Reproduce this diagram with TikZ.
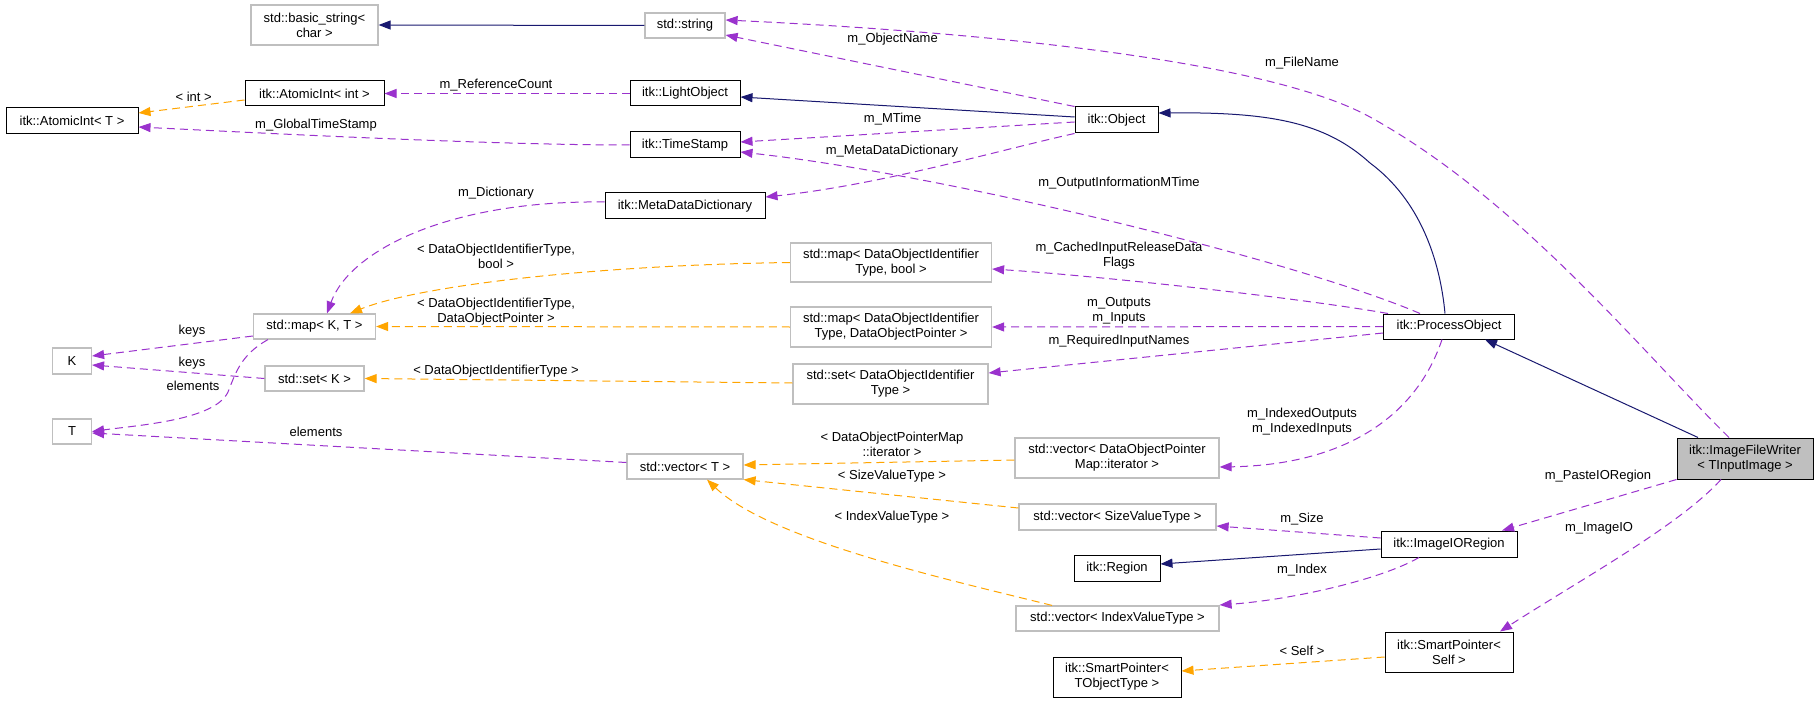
\documentclass[tikz,border=0pt]{standalone}
\usepackage{fontspec}
\setmainfont{Liberation Sans}
\usetikzlibrary{arrows.meta,calc}
\definecolor{dpurple}{HTML}{9A32CD}
\definecolor{dorange}{HTML}{FFA500}
\definecolor{dnavy}{HTML}{191970}
\definecolor{dgray}{HTML}{BFBFBF}
\begin{document}
\begin{tikzpicture}[x=1pt,y=-1pt,
  every node/.style={font=\fontsize{13}{15}\selectfont, inner sep=0pt, align=center},
  cls/.style={draw=black, line width=1pt, fill=white},
  ext/.style={draw=dgray, line width=1.2pt, fill=white},
  cur/.style={draw=black, line width=1pt, fill=dgray},
  inh/.style={draw=dnavy, line width=1pt, -{Triangle[length=12pt,width=9pt]}},
  use/.style={draw=dpurple, line width=1pt, dash pattern=on 8pt off 5pt, -{Triangle[length=12pt,width=9pt]}},
  tpl/.style={draw=dorange, line width=1pt, dash pattern=on 8pt off 5pt, -{Triangle[length=12pt,width=9pt]}},
  lbl/.style={}
]
\fill[white] (0,0) rectangle (1819,703);
\useasboundingbox (0,0) rectangle (1819,703);

% nodes
\node[ext, minimum width=127pt, minimum height=40pt] (bstr) at (314.5,25) {std::basic\_string<\\char >};
\node[ext, minimum width=80pt, minimum height=25pt] (str) at (685,25.5) {std::string};
\node[cls, minimum width=139pt, minimum height=25pt] (aint) at (314.5,93.5) {itk::AtomicInt< int >};
\node[cls, minimum width=132pt, minimum height=26pt] (aT) at (72,121) {itk::AtomicInt< T >};
\node[cls, minimum width=110pt, minimum height=25pt] (light) at (685,93.5) {itk::LightObject};
\node[cls, minimum width=110pt, minimum height=26pt] (ts) at (685,145) {itk::TimeStamp};
\node[cls, minimum width=160pt, minimum height=26pt] (mdd) at (685,206) {itk::MetaDataDictionary};
\node[cls, minimum width=83pt, minimum height=26pt] (obj) at (1116.5,120) {itk::Object};
\node[ext, minimum width=122pt, minimum height=25pt] (mapKT) at (314.5,326.5) {std::map< K, T >};
\node[ext, minimum width=39pt, minimum height=26pt] (K) at (72,361) {K};
\node[ext, minimum width=99pt, minimum height=25pt] (setK) at (314.5,378.5) {std::set< K >};
\node[ext, minimum width=39pt, minimum height=25pt] (T) at (72,431.5) {T};
\node[ext, minimum width=201pt, minimum height=39pt] (mapbool) at (891,262.5) {std::map< DataObjectIdentifier\\Type, bool >};
\node[ext, minimum width=201pt, minimum height=40pt] (mapdop) at (891,327) {std::map< DataObjectIdentifier\\Type, DataObjectPointer >};
\node[ext, minimum width=195pt, minimum height=40pt] (setdoit) at (890.5,384) {std::set< DataObjectIdentifier\\Type >};
\node[ext, minimum width=116pt, minimum height=25pt] (vecT) at (685,466.5) {std::vector< T >};
\node[ext, minimum width=204pt, minimum height=40pt] (vecit) at (1117,458) {std::vector< DataObjectPointer\\Map::iterator >};
\node[ext, minimum width=197pt, minimum height=26pt] (vecsize) at (1117.5,517) {std::vector< SizeValueType >};
\node[cls, minimum width=86pt, minimum height=26pt] (region) at (1117,568) {itk::Region};
\node[ext, minimum width=203pt, minimum height=25pt] (vecidx) at (1117.5,618.5) {std::vector< IndexValueType >};
\node[cls, minimum width=128pt, minimum height=40pt] (spT) at (1117,677) {itk::SmartPointer<\\TObjectType >};
\node[cls, minimum width=131pt, minimum height=25pt] (po) at (1449,326.5) {itk::ProcessObject};
\node[cur, minimum width=136pt, minimum height=41pt] (ifw) at (1745,458.5) {itk::ImageFileWriter\\< TInputImage >};
\node[cls, minimum width=136pt, minimum height=26pt] (ioreg) at (1449,544) {itk::ImageIORegion};
\node[cls, minimum width=128pt, minimum height=40pt] (spS) at (1449,652) {itk::SmartPointer<\\Self >};

% inheritance
\draw[inh] (str.west) -- (bstr.east);
\draw[inh] ($(obj.west)+(0,-3)$) -- ($(light.east)+(0,3.5)$);
\draw[inh] ($(po.north)+(-4,0)$) .. controls (1440,260) and (1420,200) .. (1370,163) .. controls (1325,122) and (1270,112) .. ($(obj.east)+(0,-7)$);
\draw[inh] ($(ifw.north)+(-47,0)$) -- ($(po.south)+(36,0)$);
\draw[inh] ($(ioreg.west)+(0,5)$) -- ($(region.east)+(0,-4)$);

% usage and templates
\draw[tpl] ($(aint.west)+(0,6.5)$) -- ($(aT.east)+(0,-8)$);
\draw[use] (light.west) -- (aint.east);
\draw[use] (ts.west) .. controls (500,145) and (300,135) .. ($(aT.east)+(0,6)$);
\draw[use] (obj.north west) -- ($(str.east)+(0,9.5)$);
\draw[use] ($(obj.west)+(0,2)$) -- ($(ts.east)+(0,-3)$);
\draw[use] (obj.south west) .. controls (1000,150) and (880,185) .. ($(mdd.east)+(0,-9)$);
\draw[use] ($(po.north)+(-29,0)$) .. controls (1300,262) and (950,175) .. ($(ts.east)+(0,7)$);
\draw[use] ($(ifw.north)+(-16,0)$) .. controls (1640,350) and (1520,200) .. (1370,117) .. controls (1270,62) and (1000,33) .. ($(str.east)+(0,-5.5)$);
\draw[use] ($(mdd.west)+(0,-4)$) .. controls (450,200) and (350,250) .. ($(mapKT.north)+(12.5,0)$);
\draw[use] ($(po.north west)+(5,0)$) .. controls (1300,298) and (1100,276) .. ($(mapbool.east)+(0,6.5)$);
\draw[use] (po.west) -- (mapdop.east);
\draw[use] ($(po.west)+(0,6.5)$) -- ($(setdoit.east)+(0,-11)$);
\draw[use] ($(po.south)+(-7,0)$) .. controls (1415,420) and (1340,465) .. ($(vecit.east)+(0,9)$);
\draw[tpl] (mapbool.west) .. controls (600,265) and (420,285) .. ($(mapKT.north)+(35.5,0)$);
\draw[tpl] (mapdop.west) -- (mapKT.east);
\draw[tpl] ($(setdoit.west)+(0,-1)$) -- (setK.east);
\draw[use] ($(mapKT.west)+(0,9.5)$) -- ($(K.east)+(0,-5)$);
\draw[use] (setK.west) -- ($(K.east)+(0,4)$);
\draw[use] ($(mapKT.south)+(-46.5,0)$) .. controls (240,355) and (235,375) .. (228,392) .. controls (215,420) and (140,425) .. (T.east);
\draw[use] ($(vecT.west)+(0,-4)$) -- ($(T.east)+(0,1.5)$);
\draw[tpl] ($(vecit.west)+(0,2)$) -- ($(vecT.east)+(0,-1.5)$);
\draw[tpl] ($(vecsize.west)+(0,-9)$) -- (vecT.south east);
\draw[tpl] ($(vecidx.north)+(-65.5,0)$) .. controls (950,580) and (770,540) .. ($(vecT.south)+(22,0)$);
\draw[use] ($(ioreg.west)+(0,-6)$) -- ($(vecsize.east)+(0,9)$);
\draw[use] ($(ioreg.south)+(-30,0)$) .. controls (1380,580) and (1290,600) .. ($(vecidx.east)+(0,-13.5)$);
\draw[use] (ifw.south west) -- ($(ioreg.north)+(53,0)$);
\draw[use] ($(ifw.south)+(-24,0)$) .. controls (1680,525) and (1580,580) .. ($(spS.north)+(51,0)$);
\draw[tpl] ($(spS.west)+(0,5)$) -- ($(spT.east)+(0,-6)$);

% labels
\node[lbl] (l01) at (193.7,97) {< int >};
\node[lbl] (l02) at (496,85) {m\_ReferenceCount};
\node[lbl] (l03) at (316,125) {m\_GlobalTimeStamp};
\node[lbl] (l04) at (496,193) {m\_Dictionary};
\node[lbl] (l05) at (892.6,39) {m\_ObjectName};
\node[lbl] (l06) at (892.6,119) {m\_MTime};
\node[lbl] (l07) at (892,151) {m\_MetaDataDictionary};
\node[lbl] (l08) at (1119,183) {m\_OutputInformationMTime};
\node[lbl] (l09) at (1302,63) {m\_FileName};
\node[lbl] (l10) at (496,256) {< DataObjectIdentifierType,\\bool >};
\node[lbl] (l11) at (496,311.5) {< DataObjectIdentifierType,\\DataObjectPointer >};
\node[lbl] (l12) at (192,331) {keys};
\node[lbl] (l13) at (192,363) {keys};
\node[lbl] (l14) at (193,386) {elements};
\node[lbl] (l15) at (496,371) {< DataObjectIdentifierType >};
\node[lbl] (l16) at (316,432) {elements};
\node[lbl] (l17) at (1119,255.5) {m\_CachedInputReleaseData\\Flags};
\node[lbl] (l18) at (1119,311) {m\_Outputs\\m\_Inputs};
\node[lbl] (l19) at (1119,341) {m\_RequiredInputNames};
\node[lbl] (l20) at (892,444) {< DataObjectPointerMap\\::iterator >};
\node[lbl] (l21) at (1302,421.5) {m\_IndexedOutputs\\m\_IndexedInputs};
\node[lbl] (l22) at (892,476) {< SizeValueType >};
\node[lbl] (l23) at (892,517) {< IndexValueType >};
\node[lbl] (l24) at (1598,476) {m\_PasteIORegion};
\node[lbl] (l25) at (1302,519) {m\_Size};
\node[lbl] (l26) at (1599,528) {m\_ImageIO};
\node[lbl] (l27) at (1302,570) {m\_Index};
\node[lbl] (l28) at (1302,651) {< Self >};
\end{tikzpicture}
\end{document}
